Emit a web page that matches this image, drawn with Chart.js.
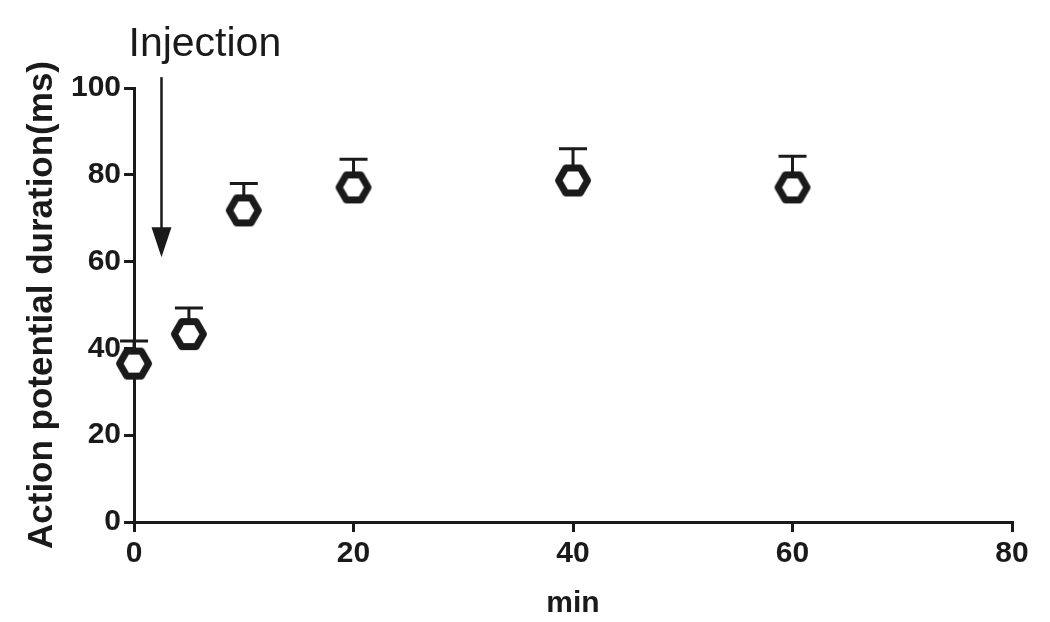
<!DOCTYPE html>
<html>
<head>
<meta charset="utf-8">
<script src="https://cdn.jsdelivr.net/npm/chart.js@4.4.1/dist/chart.umd.min.js"></script>
<style>
  html, body { margin: 0; padding: 0; background: #fff; }
  #wrap { width: 1050px; height: 622px; position: relative; }
</style>
</head>
<body>
<div id="wrap"><canvas id="apdChart"></canvas></div>
<script>
// values
const minutes = [0, 5, 10, 20, 40, 60];
const apdMean = [36.5, 43.3, 71.8, 77.1, 78.7, 77.1];
const apdUpper = [41.7, 49.3, 78.0, 83.6, 86.0, 84.3];
const xTicks = [0, 20, 40, 60, 80];
const yTicks = [0, 20, 40, 60, 80, 100];
const injectionAt = 2.5;
const arrowFrom = 102.5, arrowTo = 61;

const FONT = "'Liberation Sans', Arial, Helvetica, sans-serif";

// hexagon marker (flat top/bottom, white inside)
function hexMarker() {
    const c = document.createElement('canvas');
    c.width = 44; c.height = 44;
    const g = c.getContext('2d');
    const r = 14.5;
    g.beginPath();
    for (let i = 0; i < 6; i++) {
        const a = Math.PI / 3 * i;
        const px = 22 + r * Math.cos(a), py = 22 + r * Math.sin(a);
        if (i === 0) g.moveTo(px, py); else g.lineTo(px, py);
    }
    g.closePath();
    g.fillStyle = '#fff';
    g.fill();
    g.lineWidth = 7;
    g.lineJoin = 'round';
    g.strokeStyle = '#1a1a1a';
    g.stroke();
    return c;
}

const extras = {
    id: 'extras',
    beforeDatasetsDraw(chart) {
        const { ctx, scales: { x, y } } = chart;
        ctx.save();
        ctx.strokeStyle = '#1a1a1a';
        ctx.lineWidth = 3;
        minutes.forEach((m, i) => {
            const px = x.getPixelForValue(m);
            const py0 = y.getPixelForValue(apdMean[i]);
            const py1 = y.getPixelForValue(apdUpper[i]);
            ctx.beginPath();
            ctx.moveTo(px, py0);
            ctx.lineTo(px, py1);
            ctx.moveTo(px - 14, py1);
            ctx.lineTo(px + 14, py1);
            ctx.stroke();
        });
        ctx.restore();
    },
    afterDraw(chart) {
        const { ctx, scales: { x, y } } = chart;
        const ax = x.getPixelForValue(injectionAt);
        const top = y.getPixelForValue(arrowFrom);
        const tip = y.getPixelForValue(arrowTo);
        ctx.save();
        ctx.strokeStyle = '#1a1a1a';
        ctx.fillStyle = '#1a1a1a';
        ctx.lineWidth = 2.5;
        ctx.beginPath();
        ctx.moveTo(ax, top);
        ctx.lineTo(ax, tip - 20);
        ctx.stroke();
        ctx.beginPath();
        ctx.moveTo(ax - 10, tip - 30);
        ctx.lineTo(ax + 10, tip - 30);
        ctx.lineTo(ax, tip);
        ctx.closePath();
        ctx.fill();
        ctx.font = "41px " + FONT;
        ctx.textAlign = 'left';
        ctx.textBaseline = 'alphabetic';
        ctx.fillText('Injection', ax - 33, top - 21);
        ctx.restore();
    }
};

new Chart(document.getElementById('apdChart'), {
    type: 'scatter',
    data: {
        datasets: [{
            data: minutes.map((m, i) => ({ x: m, y: apdMean[i] })),
            pointStyle: hexMarker(),
            clip: false
        }]
    },
    options: {
        responsive: true,
        maintainAspectRatio: false,
        animation: false,
        layout: { padding: { top: 88, right: 38, left: 17, bottom: 0 } },
        plugins: { legend: { display: false }, tooltip: { enabled: false } },
        scales: {
            x: {
                type: 'linear', min: 0, max: 80,
                afterBuildTicks: s => { s.ticks = xTicks.map(v => ({ value: v })); },
                border: { color: '#1a1a1a', width: 3 },
                grid: { drawOnChartArea: false, color: '#1a1a1a', lineWidth: 3, tickLength: 10 },
                ticks: { color: '#1a1a1a', font: { family: FONT, size: 30, weight: 'bold' }, padding: 4, maxRotation: 0 },
                title: { display: true, text: 'min', color: '#1a1a1a', font: { family: FONT, size: 30, weight: 'bold' }, padding: { top: 10, bottom: 0 } }
            },
            y: {
                type: 'linear', min: 0, max: 100,
                afterBuildTicks: s => { s.ticks = yTicks.map(v => ({ value: v })); },
                border: { color: '#1a1a1a', width: 3 },
                grid: { drawOnChartArea: false, color: '#1a1a1a', lineWidth: 3, tickLength: 10 },
                ticks: { color: '#1a1a1a', font: { family: FONT, size: 30, weight: 'bold' }, padding: 3 },
                title: { display: true, text: 'Action potential duration(ms)', color: '#1a1a1a', font: { family: FONT, size: 35, weight: 'bold' }, padding: { bottom: 5 } }
            }
        }
    },
    plugins: [extras]
});
</script>
</body>
</html>
